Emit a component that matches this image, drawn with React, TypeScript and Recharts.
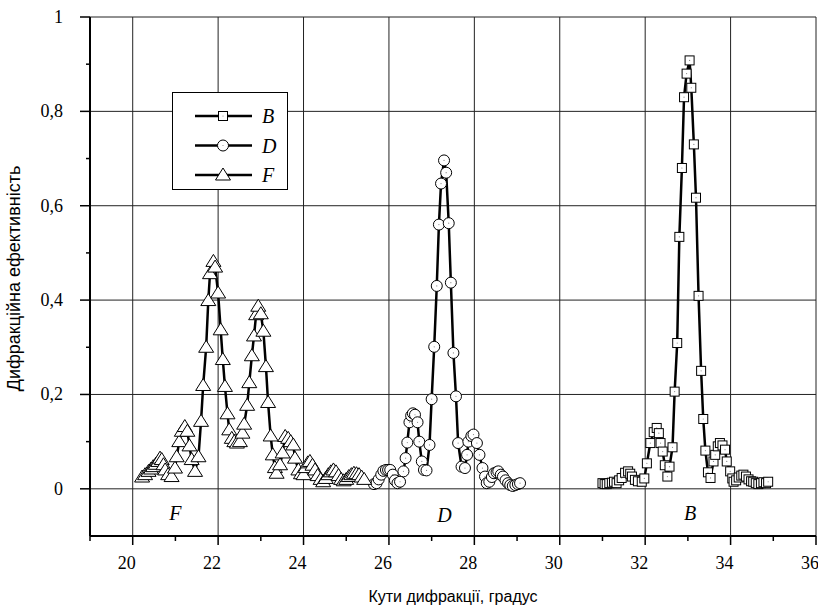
import React from 'react';
import { LineChart, Line, XAxis, YAxis, CartesianGrid, ReferenceDot, Legend } from 'recharts';

// ---- data ----
const seriesB = [
  [31.00, 0.012], [31.05, 0.010], [31.10, 0.010], [31.16, 0.012], [31.22, 0.013], [31.27, 0.015],
  [31.33, 0.012], [31.39, 0.018], [31.45, 0.023], [31.53, 0.034], [31.60, 0.037], [31.65, 0.032],
  [31.69, 0.026], [31.76, 0.019], [31.83, 0.016], [31.92, 0.015], [31.98, 0.022], [32.04, 0.054],
  [32.12, 0.097], [32.20, 0.120], [32.27, 0.129], [32.32, 0.118], [32.36, 0.097], [32.41, 0.079],
  [32.46, 0.050], [32.52, 0.026], [32.57, 0.047], [32.64, 0.088], [32.69, 0.206], [32.75, 0.309],
  [32.80, 0.534], [32.86, 0.680], [32.91, 0.830], [32.97, 0.880], [33.04, 0.908], [33.08, 0.850],
  [33.14, 0.730], [33.19, 0.617], [33.25, 0.409], [33.31, 0.250], [33.36, 0.148], [33.41, 0.081],
  [33.47, 0.035], [33.53, 0.023], [33.60, 0.058], [33.64, 0.072], [33.70, 0.090], [33.75, 0.097],
  [33.81, 0.092], [33.87, 0.083], [33.91, 0.058], [33.99, 0.037], [34.04, 0.022], [34.07, 0.015],
  [34.13, 0.018], [34.19, 0.024], [34.25, 0.028], [34.30, 0.030], [34.36, 0.026], [34.42, 0.020],
  [34.48, 0.016], [34.53, 0.015], [34.59, 0.012], [34.65, 0.010], [34.71, 0.012], [34.77, 0.014],
  [34.83, 0.012], [34.88, 0.015],
];

const seriesD = [
  [25.65, 0.010], [25.71, 0.012], [25.76, 0.020], [25.82, 0.030], [25.87, 0.038], [25.93, 0.040],
  [25.98, 0.040], [26.03, 0.040], [26.09, 0.030], [26.14, 0.018], [26.20, 0.012], [26.26, 0.015],
  [26.34, 0.037], [26.39, 0.065], [26.43, 0.098], [26.48, 0.141], [26.52, 0.155], [26.56, 0.160],
  [26.61, 0.157], [26.67, 0.141], [26.71, 0.100], [26.77, 0.058], [26.82, 0.040], [26.88, 0.039],
  [26.95, 0.093], [27.00, 0.190], [27.06, 0.301], [27.12, 0.430], [27.17, 0.560], [27.22, 0.647],
  [27.29, 0.696], [27.34, 0.670], [27.40, 0.563], [27.45, 0.437], [27.51, 0.288], [27.57, 0.196],
  [27.62, 0.097], [27.70, 0.047], [27.78, 0.044], [27.83, 0.072], [27.86, 0.100], [27.93, 0.112],
  [27.98, 0.115], [28.06, 0.097], [28.12, 0.072], [28.19, 0.044], [28.25, 0.026], [28.29, 0.012],
  [28.35, 0.015], [28.41, 0.025], [28.46, 0.033], [28.52, 0.035], [28.56, 0.037], [28.62, 0.030],
  [28.67, 0.026], [28.73, 0.018], [28.79, 0.012], [28.84, 0.008], [28.90, 0.006], [28.96, 0.008],
  [29.02, 0.010], [29.07, 0.012],
];

const seriesF = [
  [20.22, 0.025], [20.29, 0.030], [20.37, 0.037], [20.43, 0.042], [20.48, 0.047], [20.54, 0.052],
  [20.60, 0.058], [20.64, 0.065], [20.68, 0.062], [20.72, 0.051], [20.76, 0.040], [20.83, 0.030],
  [20.91, 0.026], [20.99, 0.044], [21.03, 0.068], [21.09, 0.100], [21.15, 0.122], [21.22, 0.132],
  [21.28, 0.122], [21.33, 0.091], [21.38, 0.062], [21.46, 0.037], [21.54, 0.068], [21.60, 0.143],
  [21.65, 0.219], [21.72, 0.300], [21.77, 0.399], [21.81, 0.456], [21.89, 0.482], [21.93, 0.470],
  [22.00, 0.415], [22.06, 0.337], [22.11, 0.274], [22.16, 0.217], [22.22, 0.159], [22.26, 0.125],
  [22.32, 0.107], [22.38, 0.100], [22.44, 0.097], [22.51, 0.100], [22.57, 0.118], [22.61, 0.137],
  [22.68, 0.177], [22.73, 0.225], [22.79, 0.282], [22.84, 0.324], [22.89, 0.369], [22.94, 0.387],
  [23.00, 0.371], [23.06, 0.334], [23.12, 0.259], [23.17, 0.183], [23.23, 0.112], [23.28, 0.072],
  [23.33, 0.045], [23.37, 0.033], [23.45, 0.051], [23.51, 0.076], [23.57, 0.111], [23.64, 0.107],
  [23.70, 0.100], [23.76, 0.093], [23.80, 0.065], [23.88, 0.040], [23.94, 0.032], [24.00, 0.030],
  [24.05, 0.045], [24.10, 0.055], [24.15, 0.058], [24.21, 0.050], [24.27, 0.040], [24.33, 0.028],
  [24.40, 0.020], [24.46, 0.015], [24.52, 0.022], [24.58, 0.030], [24.64, 0.036], [24.70, 0.040],
  [24.76, 0.036], [24.82, 0.028], [24.88, 0.020], [24.94, 0.017], [25.00, 0.020], [25.06, 0.026],
  [25.12, 0.030], [25.18, 0.033], [25.24, 0.032], [25.30, 0.030], [25.36, 0.025], [25.42, 0.020],
];

const xTicks = [19, 20, 21, 22, 23, 24, 25, 26, 27, 28, 29, 30, 31, 32, 33, 34, 35, 36];
const yTicks = [0, 0.1, 0.2, 0.3, 0.4, 0.5, 0.6, 0.7, 0.8, 0.9, 1];
const gridX = [20, 22, 24, 26, 28, 30, 32, 34, 36];
const gridY = [0, 0.2, 0.4, 0.6, 0.8, 1];
const legendNames = ['B', 'D', 'F'];
const annotations = [
  { x: 21.0, y: -0.05, text: 'F' },
  { x: 27.3, y: -0.055, text: 'D' },
  { x: 33.05, y: -0.05, text: 'B' },
];
const xTitle = 'Кути дифракції, градус';
const yTitle = 'Дифракційна ефективність';

const toRows = (arr: number[][]) => arr.map(([x, y]) => ({ x, y }));
const dataB = toRows(seriesB);
const dataD = toRows(seriesD);
const dataF = toRows(seriesF);

const SERIF = '"Liberation Serif", "Times New Roman", serif';
const SANS = '"Liberation Sans", Arial, sans-serif';

// ---- markers ----
const Square = ({ cx, cy }: any) => (
  <g>
    <rect x={cx - 4.5} y={cy - 4.5} width={9} height={9} fill="#fff" stroke="#000" strokeWidth={1} />
    <circle cx={cx} cy={cy} r={0.6} fill="#888" />
  </g>
);
const Circle = ({ cx, cy }: any) => (
  <g>
    <circle cx={cx} cy={cy} r={5.5} fill="#fff" stroke="#000" strokeWidth={1} />
    <circle cx={cx} cy={cy} r={0.6} fill="#888" />
  </g>
);
const Tri = ({ cx, cy }: any) => (
  <g>
    <polygon
      points={`${cx},${cy - 7} ${cx + 7.5},${cy + 5} ${cx - 7.5},${cy + 5}`}
      fill="#fff"
      stroke="#000"
      strokeWidth={1}
    />
  </g>
);
const shapeFor: Record<string, any> = { B: Square, D: Circle, F: Tri };

const makeDot = (name: string) => (p: any) => {
  const S = shapeFor[name];
  if (p.cx == null || p.cy == null) return <g key={`${name}-${p.index}`} />;
  return <S key={`${name}-${p.index}`} cx={p.cx} cy={p.cy} />;
};

// ---- ticks ----
const XTick = ({ x, y, payload }: any) => {
  const v = payload.value;
  const major = v % 2 === 0;
  return (
    <g>
      <line x1={x} x2={x} y1={y} y2={y + (major ? 9 : 5)} stroke="#000" strokeWidth={1.5} />
      {major && (
        <text x={x - 6} y={y + 33} textAnchor="middle" fontFamily={SERIF} fontSize={18} fill="#000">
          {v}
        </text>
      )}
    </g>
  );
};

const YTick = ({ x, y, payload }: any) => {
  const v = payload.value;
  const major = Math.round(v * 10) % 2 === 0;
  return (
    <g>
      <line x1={x} x2={x - (major ? 10 : 4)} y1={y} y2={y} stroke="#000" strokeWidth={1.5} />
      {major && (
        <text x={x - 27} y={y + 6} textAnchor="end" fontFamily={SERIF} fontSize={18} fill="#000">
          {String(v).replace('.', ',')}
        </text>
      )}
    </g>
  );
};

const YTitle = ({ viewBox }: any) => {
  const cy = viewBox ? viewBox.y + viewBox.height / 2 : 276;
  return (
    <text
      transform={`translate(20, ${cy + 2}) rotate(-90)`}
      textAnchor="middle"
      fontFamily={SANS}
      fontSize={18}
      fill="#000"
    >
      {yTitle}
    </text>
  );
};

const XTitle = ({ viewBox }: any) => {
  const cx = viewBox ? viewBox.x + viewBox.width / 2 : 453;
  return (
    <text x={cx} y={602} textAnchor="middle" fontFamily={SANS} fontSize={16} fill="#000">
      {xTitle}
    </text>
  );
};

const LegendBox = () => (
  <svg width={117} height={99} style={{ display: 'block' }}>
    <rect x={0.5} y={0.5} width={115} height={97} fill="#fff" stroke="#000" strokeWidth={1} />
    {legendNames.map((n, i) => {
      const S = shapeFor[n];
      const yy = 24 + i * 29.5;
      return (
        <g key={n}>
          <line x1={23} x2={80} y1={yy} y2={yy} stroke="#000" strokeWidth={2.5} />
          <S cx={51} cy={yy} />
          <text x={90} y={yy + 7} fontFamily={SERIF} fontStyle="italic" fontSize={20} fill="#000">
            {n}
          </text>
        </g>
      );
    })}
  </svg>
);

export default function App() {
  return (
    <div style={{ position: 'absolute', left: 0, top: 0, width: 818, height: 612, background: '#fff' }}>
      <LineChart width={818} height={612} margin={{ top: 17, right: 2, bottom: 0, left: 0 }}>
        <CartesianGrid
          stroke="#222"
          strokeWidth={1}
          verticalValues={gridX}
          horizontalValues={gridY}
        />
        <XAxis
          type="number"
          dataKey="x"
          domain={[19, 36]}
          ticks={xTicks}
          interval={0}
          allowDataOverflow
          height={76}
          tickSize={0}
          tickMargin={0}
          tickLine={false}
          axisLine={{ stroke: '#000', strokeWidth: 2 }}
          tick={<XTick />}
          label={<XTitle />}
        />
        <YAxis
          type="number"
          domain={[-0.1, 1]}
          ticks={yTicks}
          interval={0}
          allowDataOverflow
          width={90}
          tickSize={0}
          tickMargin={0}
          tickLine={false}
          axisLine={{ stroke: '#000', strokeWidth: 2 }}
          tick={<YTick />}
          label={<YTitle />}
        />
        <Legend
          layout="horizontal"
          verticalAlign="middle"
          align="center"
          wrapperStyle={{ left: 172, top: 92, width: 117, height: 99 }}
          content={<LegendBox />}
        />
        <Line
          data={dataB}
          dataKey="y"
          name="B"
          type="linear"
          stroke="#000"
          strokeWidth={2.5}
          dot={makeDot('B')}
          activeDot={false}
          isAnimationActive={false}
        />
        <Line
          data={dataD}
          dataKey="y"
          name="D"
          type="linear"
          stroke="#000"
          strokeWidth={2.5}
          dot={makeDot('D')}
          activeDot={false}
          isAnimationActive={false}
        />
        <Line
          data={dataF}
          dataKey="y"
          name="F"
          type="linear"
          stroke="#000"
          strokeWidth={2.5}
          dot={makeDot('F')}
          activeDot={false}
          isAnimationActive={false}
        />
        {annotations.map((a) => (
          <ReferenceDot
            key={a.text}
            x={a.x}
            y={a.y}
            r={0}
            stroke="none"
            fill="none"
            label={{
              value: a.text,
              position: 'center',
              fill: '#000',
              fontSize: 20,
              fontStyle: 'italic',
              fontFamily: SERIF,
            }}
          />
        ))}
      </LineChart>
    </div>
  );
}
